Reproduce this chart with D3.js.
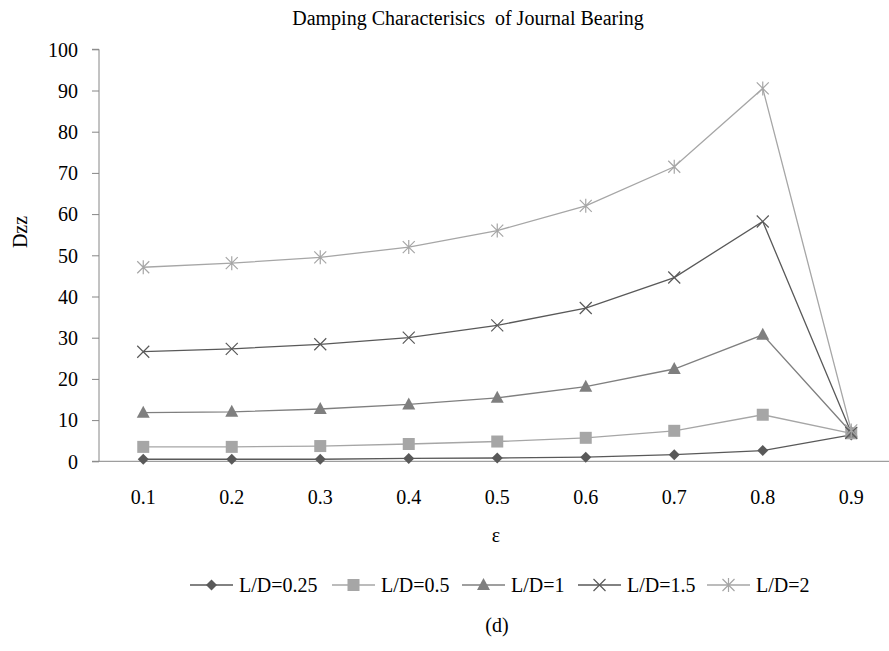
<!DOCTYPE html>
<html>
<head>
<meta charset="utf-8">
<script src="https://cdn.jsdelivr.net/npm/d3@7"></script>
<style>
  html, body { margin: 0; padding: 0; background: #fff; }
</style>
</head>
<body>
<svg id="chart" width="889" height="651"></svg>
<script>
const categories = ["0.1", "0.2", "0.3", "0.4", "0.5", "0.6", "0.7", "0.8", "0.9"];
const seriesNames = ["L/D=0.25", "L/D=0.5", "L/D=1", "L/D=1.5", "L/D=2"];
const ld025 = [0.5, 0.5, 0.5, 0.7, 0.8, 1.0, 1.6, 2.6, 6.4];
const ld05  = [3.5, 3.5, 3.7, 4.2, 4.8, 5.7, 7.4, 11.3, 6.8];
const ld1   = [11.8, 12.0, 12.7, 13.8, 15.4, 18.1, 22.4, 30.7, 7.0];
const ld15  = [26.6, 27.3, 28.4, 30.0, 33.0, 37.2, 44.6, 58.2, 6.9];
const ld2   = [47.1, 48.1, 49.5, 52.0, 56.0, 62.0, 71.5, 90.5, 7.5];
const yTicks = [0, 10, 20, 30, 40, 50, 60, 70, 80, 90, 100];
const titleText = "Damping Characterisics  of Journal Bearing";
const xLabel = "\u03b5";
const yLabel = "Dzz";
const caption = "(d)";

const seriesValues = [ld025, ld05, ld1, ld15, ld2];
const colors = ["#595959", "#a6a6a6", "#7f7f7f", "#595959", "#a6a6a6"];
const markers = ["diamond", "square", "triangle", "x", "star"];
const FONT = "'Liberation Serif', 'Times New Roman', 'DejaVu Serif', serif";

const svg = d3.select("#chart").attr("font-family", FONT);
const pLeft = 99, pRight = 895.5, pTop = 49.3, pBottom = 461.3;

const x = d3.scaleBand().domain(categories).range([pLeft, pRight]);
const y = d3.scaleLinear().domain([0, 100]).range([pBottom, pTop]);
const cx = c => x(c) + x.bandwidth() / 2;

function txt(sel) {
  return sel.style("font-family", FONT).style("font-size", "20px").attr("fill", "#000");
}

// title
txt(svg.append("text").attr("x", 468).attr("y", 25).attr("text-anchor", "middle")
  .style("white-space", "pre").text(titleText));

// y axis
const yAxis = svg.append("g").attr("transform", `translate(${pLeft},0)`)
  .call(d3.axisLeft(y).tickValues(yTicks).tickSize(7).tickPadding(14));
yAxis.attr("font-family", FONT);
yAxis.select(".domain").attr("stroke", "#868686").attr("d", `M-7,${pTop}H0V${pBottom}`);
yAxis.selectAll(".tick line").attr("stroke", "#868686");
txt(yAxis.selectAll(".tick text")).attr("dy", "0.34em");

// x axis
const xAxis = svg.append("g").attr("transform", `translate(0,${pBottom})`)
  .call(d3.axisBottom(x).tickSize(0).tickPadding(29));
xAxis.attr("font-family", FONT);
xAxis.select(".domain").attr("stroke", "#868686").attr("d", `M${pLeft-7},0H889`);
txt(xAxis.selectAll(".tick text"));

// axis labels
txt(svg.append("text").attr("transform", "translate(27,232) rotate(-90)")
  .attr("text-anchor", "middle").text(yLabel));
txt(svg.append("text").attr("x", 496).attr("y", 542).attr("text-anchor", "middle").text(xLabel));
txt(svg.append("text").attr("x", 497).attr("y", 632).attr("text-anchor", "middle").text(caption));

function drawMarker(g, type, px, py, color) {
  if (type === "diamond") {
    g.append("path").attr("d", `M${px},${py-5.5}L${px+5.5},${py}L${px},${py+5.5}L${px-5.5},${py}Z`).attr("fill", color);
  } else if (type === "square") {
    g.append("rect").attr("x", px-6).attr("y", py-6).attr("width", 12).attr("height", 12).attr("fill", color);
  } else if (type === "triangle") {
    g.append("path").attr("d", `M${px},${py-7}L${px+6.5},${py+5}L${px-6.5},${py+5}Z`).attr("fill", color);
  } else if (type === "x") {
    g.append("path").attr("d", `M${px-6},${py-6}L${px+6},${py+6}M${px-6},${py+6}L${px+6},${py-6}`)
      .attr("stroke", color).attr("stroke-width", 1.2).attr("fill", "none");
  } else if (type === "star") {
    g.append("path").attr("d", `M${px-6},${py-6}L${px+6},${py+6}M${px-6},${py+6}L${px+6},${py-6}M${px},${py-7}V${py+7}`)
      .attr("stroke", color).attr("stroke-width", 1.2).attr("fill", "none");
  }
}

const line = d3.line().x(d => cx(d.c)).y(d => y(d.v));
seriesValues.forEach((vals, i) => {
  const data = categories.map((c, j) => ({ c, v: vals[j] }));
  const g = svg.append("g");
  g.append("path").datum(data).attr("d", line).attr("fill", "none")
    .attr("stroke", colors[i]).attr("stroke-width", 1.3);
  data.forEach(d => drawMarker(g, markers[i], cx(d.c), y(d.v), colors[i]));
});

// legend
const legendX = [190, 332, 462, 578, 707];
const legY = 585;
seriesNames.forEach((name, i) => {
  const g = svg.append("g");
  const lx = legendX[i];
  g.append("line").attr("x1", lx).attr("x2", lx + 43).attr("y1", legY).attr("y2", legY)
    .attr("stroke", colors[i]).attr("stroke-width", 1.3);
  drawMarker(g, markers[i], lx + 21.5, legY, colors[i]);
  txt(g.append("text").attr("x", lx + 49).attr("y", legY + 7).text(name));
});
</script>
</body>
</html>
